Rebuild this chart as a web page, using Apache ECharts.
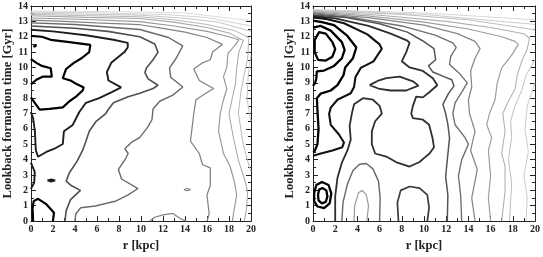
<!DOCTYPE html>
<html><head><meta charset="utf-8">
<script src="https://cdn.jsdelivr.net/npm/echarts/dist/echarts.min.js"></script>
<style>html,body{margin:0;padding:0;background:#fff}#c{width:543px;height:257px}</style>
</head><body><div id="c"></div>
<script>
// ---- axis ranges / labels ----
const xTickValues = [0,2,4,6,8,10,12,14,16,18,20];
const yTickValues = [0,1,2,3,4,5,6,7,8,9,10,11,12,13,14];
const xTitle = 'r [kpc]';
const yTitle = 'Lookback formation time [Gyr]';

// ---- LEFT panel contours: [r (kpc), lookback time (Gyr)] ----
const L1main = [[0,12.05],[1,12.0],[1.8,11.8],[3.5,11.65],[5.4,11.47],[5.3,11.0],[4.6,10.6],[3.9,10.3],[3.2,9.9],[2.9,9.3],[3.6,9.15],[4.2,8.9],[4.8,8.7],[4.7,8.5],[4.1,8.1],[3.5,7.8],[2.9,7.4],[1.7,7.3],[0.8,7.25],[0.35,7.7],[0,8.05]];
const L1hole = [[0,10.55],[0.5,10.3],[1.0,10.1],[1.8,9.95],[1.9,9.4],[1.05,9.4],[0.5,9.2],[0,8.9]];
const L1dot = [[0.3,11.45],[0.5,11.45],[0.5,11.33],[0.3,11.33],[0.3,11.45]];
const L1base = [[0.2,0],[0.15,0.8],[0.25,1.3],[0.65,1.45],[1.4,1.1],[2.1,0.55],[2.0,0]];
const L2main = [[0,12.45],[2,12.35],[5,12.1],[7.5,11.8],[8.8,11.6],[8.8,11.3],[8.5,11.0],[7.3,10.3],[6.9,9.7],[7.05,9.15],[8.2,8.7],[7.35,8.4],[6.2,8.0],[5.0,7.7],[4.4,7.1],[3.8,6.26],[3.0,5.85],[2.9,5.02],[2.14,4.71],[1.4,4.5],[0.65,4.19],[0.45,4.6],[0.36,5.85],[0.2,6.7],[0,7.1]];
const L2edge = [[0,3.8],[0.35,3.2],[0.3,2.5],[0,2.1]];
const L2oval = [[1.5,2.65],[1.85,2.72],[2.2,2.65],[1.85,2.57],[1.5,2.65]];
const L3main = [[0,12.7],[4,12.55],[7,12.35],[9.9,12.0],[11.25,11.53],[11.55,11.0],[11.1,10.5],[10.5,9.97],[10.36,9.67],[10.65,9.26],[11.55,8.84],[11.1,8.63],[9.9,8.32],[8.84,8.1],[7.5,7.7],[7.05,7.28],[6.8,7.0],[5.9,6.47],[5.3,5.85],[5.0,5.2],[4.7,4.6],[4.2,3.9],[3.5,3.15],[3.2,2.6],[3.7,2.3],[4.5,2.0],[3.6,1.4],[3.2,0.67],[3.1,0]];
const L4main = [[0,12.9],[4,12.8],[9.9,12.47],[12.5,11.95],[13.8,11.4],[13.2,10.6],[12.6,9.97],[12.7,9.36],[13.8,8.73],[12.9,8.2],[11.7,7.8],[11.1,7.3],[11.0,6.6],[10.6,6.1],[9.9,5.45],[9.13,5.12],[8.54,4.71],[8.84,4.4],[8.54,3.98],[7.95,3.36],[8.24,2.74],[9.73,2.12],[8.84,1.71],[7.65,1.29],[5.86,0.98],[4.52,0.87],[4.08,0.46],[4.0,0]];
const L5main = [[0,13.08],[3,13.0],[6,12.9],[9.9,12.78],[12,12.55],[14,12.3],[16,11.95],[17.4,11.5],[16.5,11.0],[16.3,10.5],[15.6,10.3],[14.8,9.9],[15.3,9.15],[16.6,8.63],[15.9,8.32],[15.0,7.9],[14.8,7.0],[14.5,5.2],[15.3,4.4],[15.6,3.67],[16.3,3.46],[16.3,2.32],[16.0,1.7],[16.2,0.46],[16.0,0]];
const L5bump = [[10.8,0],[11.25,0.25],[12.0,0.4],[12.9,0.5],[13.2,0.35],[13.6,0.15],[14.1,0]];
const L5oval = [[13.9,2.05],[14.2,2.12],[14.5,2.05],[14.2,1.98],[13.9,2.05]];
const L6main = [[0,13.22],[5,13.12],[9.9,12.98],[13,12.7],[16,12.35],[18,12.0],[18.9,11.8],[18.5,11.4],[17.9,10.9],[17.8,10.0],[17.5,9.4],[17.8,8.6],[17.5,7.9],[17.2,7.0],[17.05,5.85],[17.5,4.4],[18.1,3.57],[18.5,2.53],[18.7,1.7],[18.5,0.87],[18.3,0]];
const L7main = [[0,13.36],[5,13.26],[9.9,13.19],[13,12.95],[16,12.6],[18,12.25],[19.3,11.75],[18.9,11.0],[18.7,10.0],[18.6,9.0],[18.3,8.0],[18.0,7.0],[18.4,5.43],[18.85,3.98],[19.4,2.74],[19.7,1.9],[19.6,0.87],[19.4,0]];
const L8main = [[0,13.45],[5,13.37],[9.9,13.3],[13,13.1],[16,12.8],[18.5,12.4],[19.8,11.95],[19.7,10.6],[19.4,9.6],[19.1,8.5],[18.85,7.0],[19.3,5.0],[19.9,3.4],[20,3.25]];
const L9main = [[0,13.53],[5,13.47],[10,13.4],[14,13.2],[17,12.95],[20,12.35]];
const L9edge = [[20,10.8],[19.75,9.5],[19.65,8.0],[19.85,7.0],[20,6.5]];
const L10main = [[0,13.6],[6,13.55],[12,13.45],[16,13.25],[20,12.7]];
const L11main = [[0,13.67],[8,13.63],[14,13.55],[20,13.05]];

// ---- RIGHT panel contours ----
const R1loop = [[0.15,11.0],[0.15,11.8],[0.55,12.3],[1.15,12.2],[1.75,11.65],[2.0,11.2],[1.75,10.7],[1.15,10.45],[0.45,10.5],[0.15,11.0]];
const R2main = [[0,12.6],[0.7,12.7],[1.6,12.4],[2.6,11.65],[2.85,11.15],[2.6,10.6],[1.9,10.1],[1.0,9.8],[0.35,9.75],[0.3,9.3],[0.2,9.0],[0,8.8]];
const R3main = [[0,13.05],[0.8,12.95],[1.9,12.75],[3.1,12.05],[3.9,11.3],[3.6,10.6],[2.9,10.0],[2.75,9.5],[2.2,8.85],[1.6,8.5],[0.7,8.3],[0.35,8.0],[0.4,7.2],[0.5,6.0],[0.4,5.0],[0.15,4.55],[0,4.5]];
const R4main = [[0,13.25],[1.2,13.15],[2.8,12.88],[4.9,12.15],[6.0,11.5],[6.2,11.22],[5.45,10.4],[4.3,9.97],[3.82,9.36],[3.7,8.73],[3.4,8.32],[2.2,7.9],[1.6,7.39],[1.45,6.97],[1.6,6.26],[2.34,5.64],[2.79,5.12],[2.64,4.81],[1.75,4.6],[0.71,4.4],[0,4.25]];
const R5main = [[0,13.35],[2,13.2],[5,12.7],[7,12.2],[8.5,11.75],[8.7,11.6],[8.4,11.0],[8.0,10.4],[8.7,10.0],[9.9,9.77],[10.8,9.3],[11.2,8.84],[10.5,8.4],[9.9,8.05],[9.3,8.1],[9.0,7.5],[8.85,7.0],[9.0,6.7],[9.9,6.6],[10.46,6.27],[10.76,5.43],[10.9,4.81],[10.5,4.4],[10.0,4.1],[9.6,3.85],[8.7,3.55],[7.6,3.8],[6.6,4.2],[5.6,4.4],[5.3,5.0],[5.3,5.85],[5.6,6.5],[6.2,7.0],[6.0,7.5],[5.4,7.9],[4.5,8.0],[3.7,7.6],[3.5,7.0],[3.3,6.2],[3.4,5.3],[3.1,4.6],[2.6,3.8],[2.2,2.8],[2.0,1.6],[2.0,0]];
const R5island = [[5.1,8.85],[5.9,9.15],[6.6,9.3],[7.8,9.4],[9.0,9.1],[9.5,8.82],[8.4,8.5],[7.0,8.5],[6.0,8.6],[5.1,8.85]];
const RbaseInner = [[0.45,1.7],[0.55,2.05],[0.85,2.15],[1.2,2.0],[1.3,1.6],[1.15,1.25],[0.8,1.15],[0.5,1.35],[0.45,1.7]];
const RbaseOuter = [[0.1,1.8],[0.3,2.35],[0.8,2.55],[1.4,2.35],[1.65,1.8],[1.5,1.15],[1.0,0.85],[0.4,0.95],[0.1,1.3],[0.1,1.8]];
const RarchA = [[2.6,0],[2.7,1.2],[3.1,2.4],[3.6,3.3],[4.2,3.7],[4.8,3.75],[5.4,3.4],[5.9,2.6],[6.05,1.5],[6.0,0]];
const RarchB = [[3.7,0],[3.75,1.0],[4.1,1.85],[4.45,2.0],[4.8,1.7],[5.0,1.0],[4.85,0]];
const RarchC = [[7.7,0],[7.6,1.2],[7.9,2.0],[8.7,2.25],[9.6,2.15],[10.3,1.7],[10.46,0.87],[10.3,0]];
const R6main = [[0,13.42],[3,13.25],[6,12.85],[8.5,12.3],[9.87,11.74],[10.9,11.22],[11.05,10.5],[10.4,10.1],[10.8,9.7],[11.8,9.4],[12.5,9.2],[12.7,8.8],[12.2,8.3],[11.7,7.6],[11.95,7.0],[12.15,6.3],[12.3,5.4],[12.1,4.0],[11.95,2.9],[12.15,1.7],[12.1,0]];
const R7main = [[0,13.5],[4,13.2],[8,12.7],[11,12.1],[12.6,11.6],[12.9,11.3],[12.4,10.7],[12.3,10.2],[13.2,9.6],[13.9,9.0],[13.4,8.4],[12.8,7.7],[12.6,7.0],[12.8,6.27],[13.7,5.43],[14.0,5.0],[13.4,4.0],[13.1,2.95],[13.3,1.7],[13.4,0]];
const R8main = [[0,13.56],[5,13.25],[10,12.75],[13,12.2],[14.6,11.7],[15.05,11.22],[14.6,10.6],[14.2,9.77],[14.3,8.73],[14.0,7.9],[14.1,7.0],[14.6,5.85],[14.2,4.6],[14.8,3.36],[14.3,1.5],[14.6,0]];
const R9main = [[0,13.62],[5,13.35],[10,12.95],[14,12.5],[17,12.0],[18.2,11.7],[18.5,11.5],[17.9,10.8],[17.0,9.97],[16.6,9.0],[16.4,7.9],[15.9,7.0],[15.65,6.27],[16.1,5.43],[15.8,4.6],[16.0,2.95],[15.8,1.5],[16.0,0]];
const R10main = [[0,13.67],[6,13.4],[12,13.0],[16,12.6],[19,12.2],[19.5,11.9],[19.3,11.2],[18.8,10.4],[18.4,9.5],[18.2,8.6],[17.6,7.8],[17.1,7.0],[17.3,5.85],[17.0,4.4],[17.3,3.57],[17.3,1.9],[17.0,0]];
const R11main = [[0,13.71],[8,13.45],[14,13.1],[20,12.45]];
const R11edge = [[20,10.5],[19.2,9.5],[18.8,8.5],[18.2,7.5],[17.8,6.5],[17.9,5.5],[17.6,4.0],[17.9,2.5],[17.7,0]];
const R12main = [[0,13.74],[10,13.45],[20,12.8]];
const R12edge = [[20,9.0],[19.3,7.5],[19.1,6.0],[19.4,4.5],[19.0,3.0],[19.3,1.5],[19.2,0]];
const R13main = [[0,13.77],[10,13.55],[20,13.1]];

// ---- styles per contour level (colour, width) ----
const levelStyle = {
  k1:['#000000',2.2], k2:['#1e1e1e',1.9], k3:['#505050',1.6], k4:['#6a6a6a',1.4],
  k5:['#828282',1.25], k6:['#979797',1.15], k7:['#a8a8a8',1.05], k8:['#b8b8b8',1.0],
  k9:['#c6c6c6',1.0], k10:['#d2d2d2',1.0], k11:['#dcdcdc',1.0],
  r1:['#000000',2.3], r4:['#111111',2.1], r5:['#2e2e2e',1.8], rc:['#3a3a3a',1.7],
  ra:['#666666',1.4], rb:['#9a9a9a',1.2], r6:['#555555',1.5], r7:['#6e6e6e',1.35],
  r8:['#878787',1.25], r9:['#9c9c9c',1.15], r10:['#afafaf',1.05], r11:['#bfbfbf',1.0],
  r12:['#cccccc',1.0], r13:['#d8d8d8',1.0]
};
const leftLines = [
  [L11main,'k11'],[L10main,'k10'],[L9main,'k9'],[L9edge,'k9'],[L8main,'k8'],[L7main,'k7'],[L6main,'k6'],
  [L5main,'k5'],[L5bump,'k5'],[L5oval,'k5'],[L4main,'k4'],[L3main,'k3'],
  [L2main,'k2'],[L2edge,'k2'],[L2oval,'k2'],[L1main,'k1'],[L1hole,'k1'],[L1dot,'k1'],[L1base,'k1']
];
const rightLines = [
  [R13main,'r13'],[R12main,'r12'],[R12edge,'r12'],[R11main,'r11'],[R11edge,'r11'],[R10main,'r10'],
  [R9main,'r9'],[R8main,'r8'],[R7main,'r7'],[R6main,'r6'],[RarchB,'rb'],[RarchA,'ra'],[RarchC,'rc'],
  [R5main,'r5'],[R5island,'r5'],[R4main,'r4'],[R3main,'r1'],[R2main,'r1'],[R1loop,'r1'],
  [RbaseOuter,'r1'],[RbaseInner,'r1']
];

const FONT = 'Liberation Serif';
const txt = {fontFamily:FONT, fontWeight:'bold', color:'#222'};
const axLine = {show:true, onZero:false, lineStyle:{color:'#222', width:1}};
function xAx(g, pos, labels){
  return {type:'value', gridIndex:g, min:0, max:20, interval:2, position:pos,
    axisLine:axLine, splitLine:{show:false},
    axisTick:{show:true, inside:true, length:5, lineStyle:{color:'#222'}},
    minorTick:{show:true, splitNumber:2, length:3, lineStyle:{color:'#222'}},
    axisLabel:Object.assign({show:labels, fontSize:10, margin:3}, txt),
    name: labels ? xTitle : '', nameLocation:'middle', nameGap:14,
    nameTextStyle:Object.assign({fontSize:12.5}, txt)};
}
function yAx(g, pos, labels, gap){
  return {type:'value', gridIndex:g, min:0, max:14, interval:1, position:pos,
    axisLine:axLine, splitLine:{show:false},
    axisTick:{show:true, inside:true, length:5, lineStyle:{color:'#222'}},
    minorTick:{show:true, splitNumber:2, length:3, lineStyle:{color:'#222'}},
    axisLabel:Object.assign({show:labels, fontSize:10, margin:3}, txt),
    name: labels ? yTitle : '', nameLocation:'middle', nameRotate:90, nameGap:gap,
    nameTextStyle:Object.assign({fontSize:12.5}, txt)};
}
function mk(list, xi, yi){
  return list.map(([d,k]) => ({type:'line', xAxisIndex:xi, yAxisIndex:yi, data:d,
    showSymbol:false, symbol:'none', silent:true, clip:true, animation:false,
    lineStyle:{color:levelStyle[k][0], width:levelStyle[k][1]}}));
}
const chart = echarts.init(document.getElementById('c'), null, {renderer:'canvas'});
chart.setOption({
  animation:false,
  backgroundColor:'#fff',
  grid:[{left:27, top:6, width:224, height:225},{left:313, top:6, width:225, height:225}],
  xAxis:[xAx(0,'bottom',true), xAx(0,'top',false), xAx(1,'bottom',true), xAx(1,'top',false)],
  yAxis:[yAx(0,'left',true,15), yAx(0,'right',false,0), yAx(1,'left',true,16), yAx(1,'right',false,0)],
  series:[].concat(mk(leftLines,0,0), mk(rightLines,2,2))
});
</script></body></html>
